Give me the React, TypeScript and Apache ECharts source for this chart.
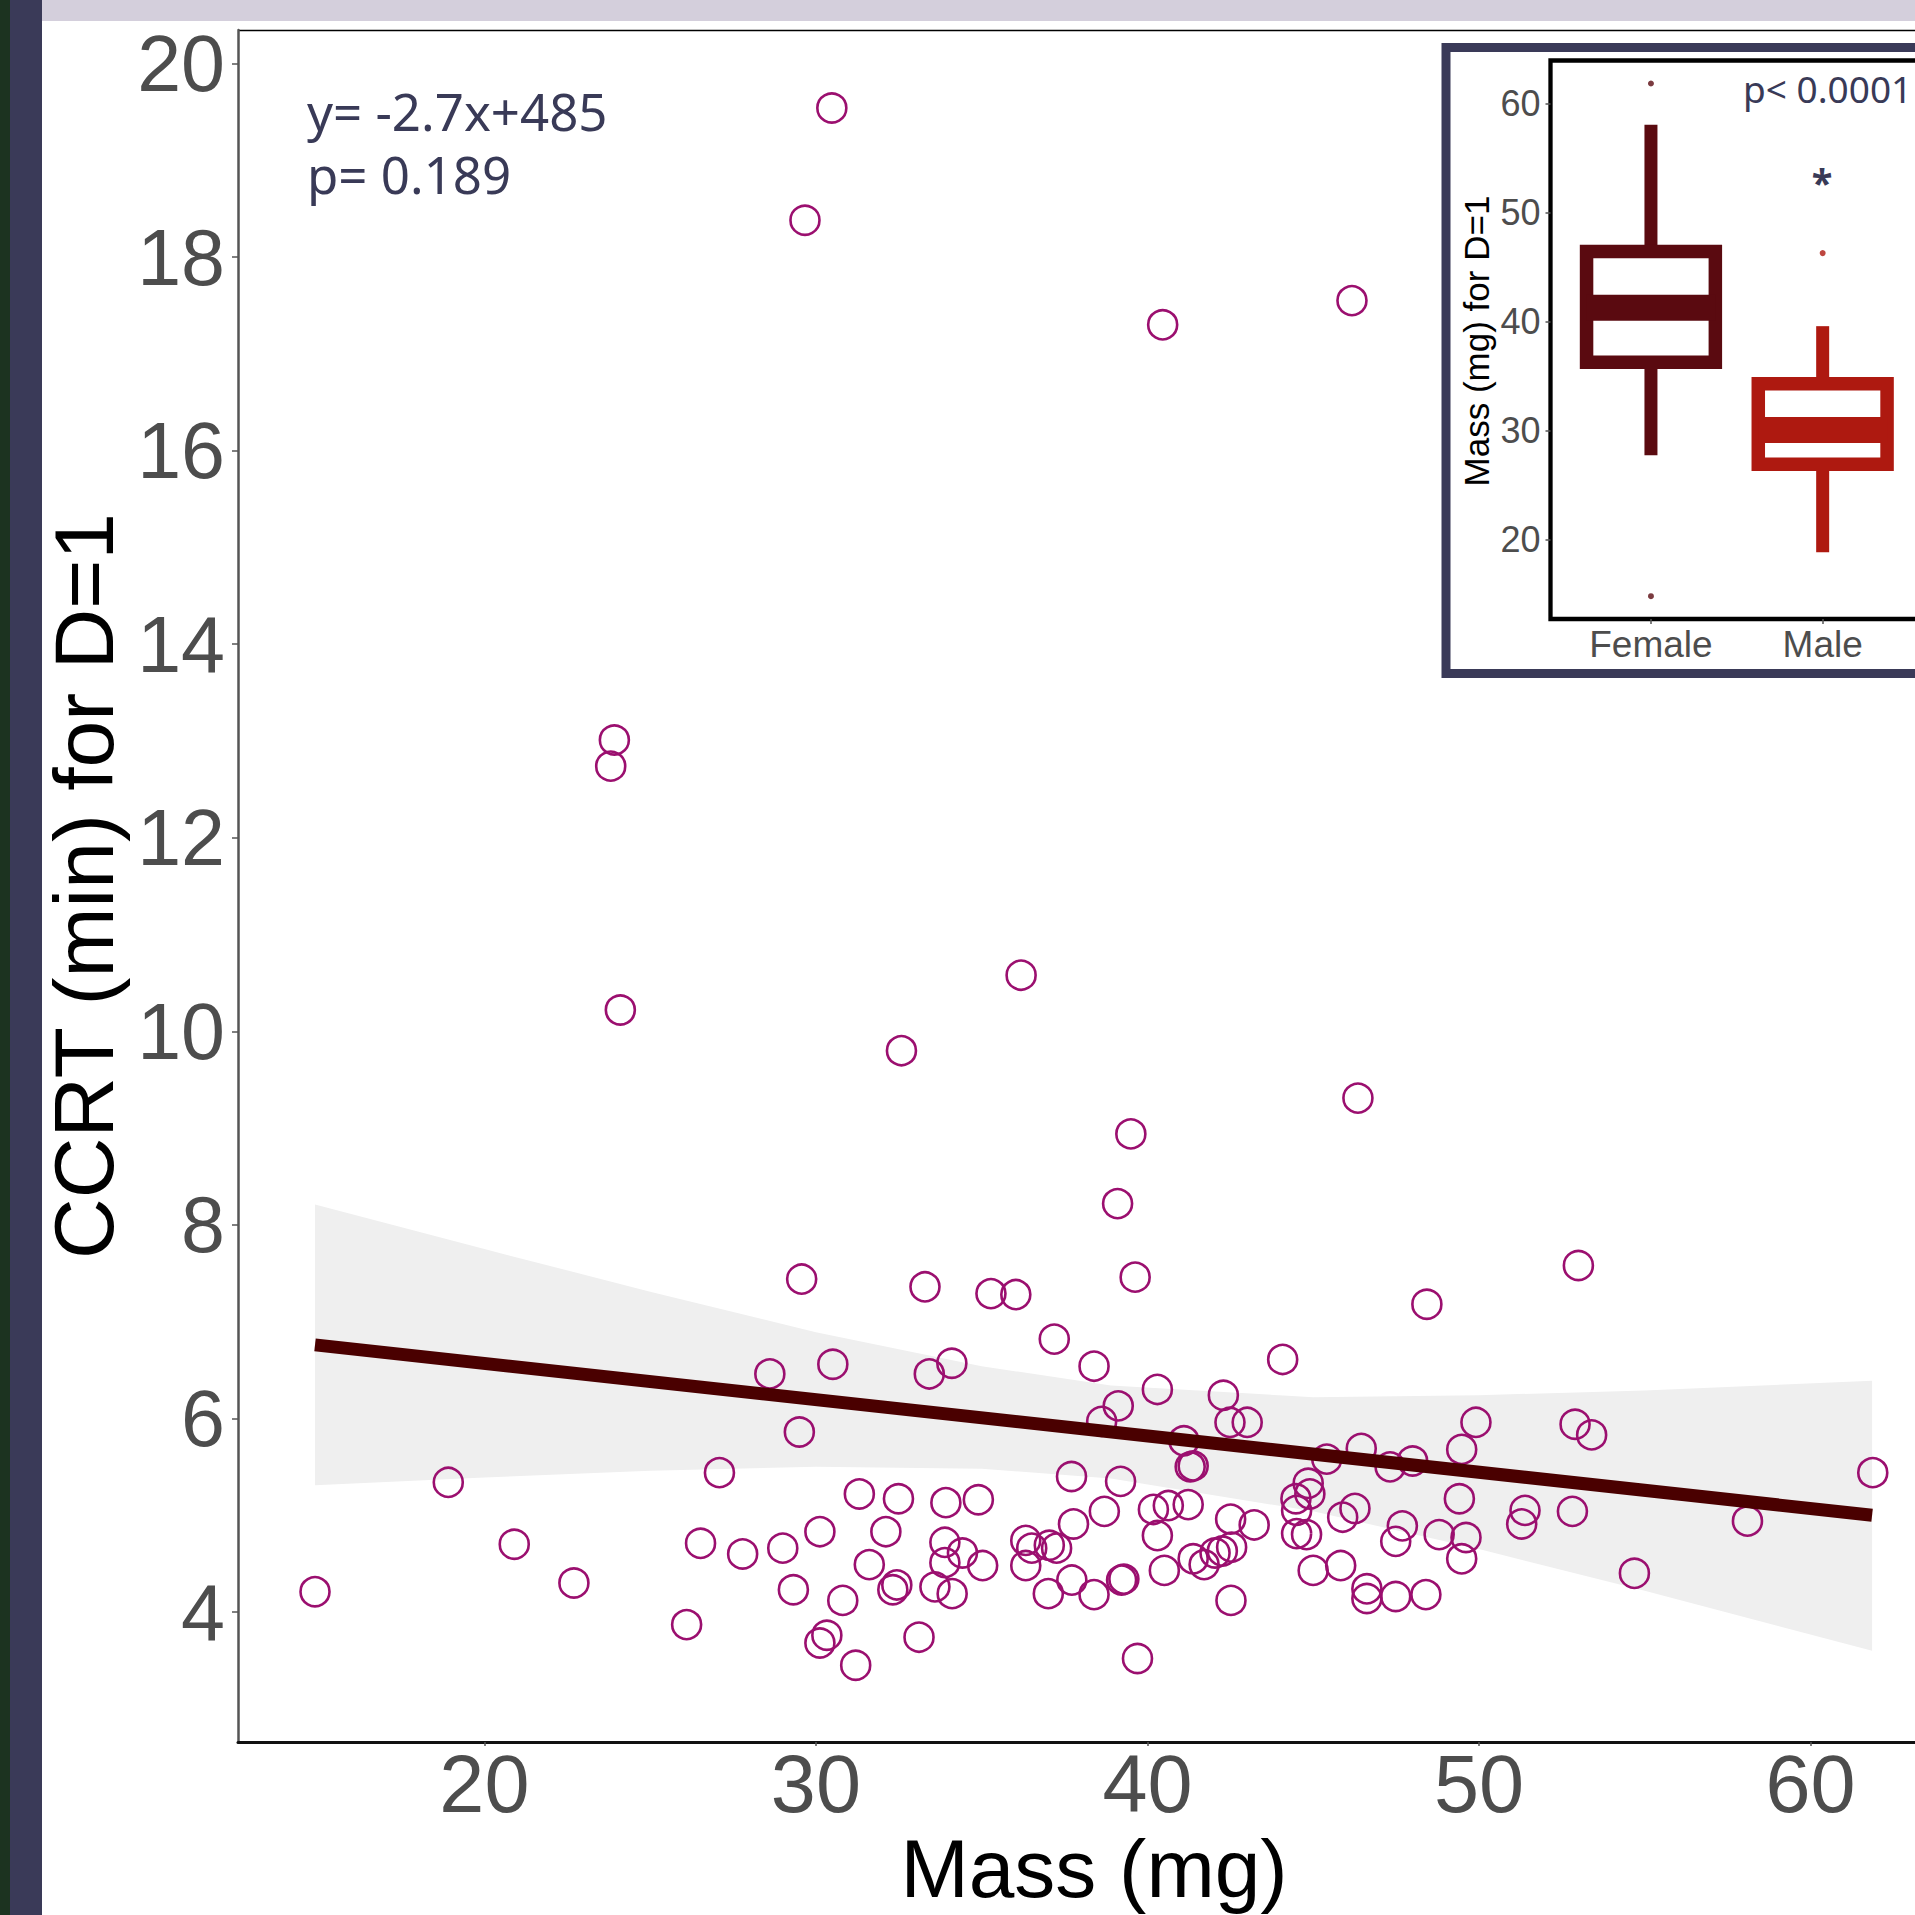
import React, { useEffect, useRef } from "react";
import * as echarts from "echarts";

// ---------- main scatter: Mass (mg) vs CCRT (min) ----------
const massValues = [
  14.89, 18.91, 20.9, 22.7, 26.1, 27.09, 26.52, 27.79, 28.61, 29.57,
  33.29, 35.28, 36.03, 37.19, 30.51, 33.42, 34.1, 29.5, 37.71, 31.31,
  32.49, 33.92, 34.9, 30.12, 32.11, 29.0, 33.89, 34.42, 33.89, 35.03,
  31.61, 36.33, 36.51, 37.04, 37.26, 36.33, 37.01, 29.32, 30.81, 32.32,
  32.44, 33.59, 34.11, 30.12, 30.33, 33.11, 31.2, 39.1, 39.63, 38.39,
  40.3, 39.12, 38.62, 42.29, 42.49, 43.01, 44.08, 41.1, 41.29, 41.38,
  39.19, 45.41, 46.45, 44.85, 44.48, 44.9, 44.5, 45.89, 46.26, 37.77,
  38.7, 40.18, 40.63, 41.23, 40.3, 42.51, 43.22, 42.54, 41.38, 41.71,
  42.04, 42.26, 40.51, 42.52, 39.7, 37.72, 38.39, 39.22, 39.29, 44.5,
  44.8, 45.0, 45.83, 46.62, 46.62, 53.0, 48.43, 49.91, 49.48, 52.9,
  53.4, 47.32, 48.0, 49.41, 51.39, 51.29, 52.82, 47.69, 47.49, 48.8,
  49.61, 49.48, 54.69, 47.49, 48.4, 61.88, 58.1, 30.48, 29.67, 40.46,
  46.17, 23.92, 23.81, 24.1, 36.19, 32.58, 46.35, 39.5
];
const ccrtValues = [
  4.21, 5.34, 4.7, 4.3, 3.87, 5.44, 4.71, 4.6, 6.46, 7.44,
  7.36, 7.29, 7.28, 6.82, 6.56, 6.46, 6.57, 5.86, 5.4, 5.22,
  5.17, 5.13, 5.16, 4.83, 4.83, 4.66, 4.72, 4.61, 4.51, 4.48,
  4.49, 4.74, 4.66, 4.69, 4.66, 4.48, 4.19, 4.23, 4.12, 4.23,
  4.28, 4.26, 4.19, 3.68, 3.76, 3.74, 3.45, 8.22, 7.46, 6.54,
  6.3, 6.13, 5.97, 6.24, 5.96, 5.96, 6.61, 5.77, 5.5, 5.51,
  5.35, 5.58, 5.69, 5.33, 5.17, 5.22, 5.05, 4.98, 5.07, 4.91,
  5.04, 5.06, 5.1, 5.11, 4.79, 4.96, 4.9, 4.67, 4.55, 4.49,
  4.61, 4.63, 4.43, 4.12, 3.52, 4.33, 4.18, 4.33, 4.34, 4.81,
  4.8, 4.43, 4.48, 4.24, 4.14, 7.58, 7.18, 5.96, 5.68, 5.94,
  5.83, 5.5, 5.56, 5.17, 5.05, 4.91, 5.04, 4.89, 4.73, 4.8,
  4.77, 4.55, 4.4, 4.16, 4.18, 5.44, 4.94, 19.54, 18.38, 17.3,
  17.55, 13.01, 12.74, 10.22, 10.58, 9.8, 9.31, 8.94
];

// fitted regression line (end points) and its confidence band
const fitMass = [14.89, 61.86];
const fitCcrt = [6.76, 5.0];
const bandMass = [14.89, 20, 25, 30, 35, 38.9, 45, 50, 55, 61.86];
const bandUpper = [8.21, 7.75, 7.31, 6.89, 6.54, 6.34, 6.22, 6.24, 6.29, 6.39];
const bandLower = [5.31, 5.39, 5.46, 5.5, 5.48, 5.38, 5.04, 4.65, 4.22, 3.6];

const xTicks = [20, 30, 40, 50, 60];
const yTicks = [4, 6, 8, 10, 12, 14, 16, 18, 20];

// ---------- inset boxplot: Mass by sex ----------
const sexCategories = ["Female", "Male"];
const boxMin = [27.77, 18.88];
const boxQ1 = [36.3, 26.94];
const boxMedian = [41.3, 30.09];
const boxQ3 = [46.44, 34.33];
const boxMax = [58.07, 39.6];
const outlierSex = [0, 0, 1];
const outlierMass = [61.85, 14.84, 46.3];
const insetTicks = [20, 30, 40, 50, 60];

const boxColors = ["#5a0a10", "#ae1910"];
const NAVY = "#3a3a58";
const POINT = "#9b0f6f";
const FIT = "#4a0000";
const TICK_GRAY = "#4d4d4d";

const CHART_W = 1980;
const CHART_H = 1915;

export default function App() {
  const ref = useRef<HTMLDivElement>(null);

  useEffect(() => {
    document.body.style.margin = "0";
    document.body.style.overflow = "hidden";
    if (!ref.current) return;
    const chart = echarts.init(ref.current, undefined, { renderer: "svg" });

    const scatterData = massValues.map((m, i) => [m, ccrtValues[i]]);
    const fitData = fitMass.map((m, i) => [m, fitCcrt[i]]);
    const boxData = sexCategories.map((_, i) => [
      i + 1,
      boxMin[i],
      boxQ1[i],
      boxMedian[i],
      boxQ3[i],
      boxMax[i],
    ]);
    const outlierData = outlierSex.map((s, i) => ({
      value: [s + 1, outlierMass[i]],
      itemStyle: { color: boxColors[s] },
    }));

    const textStyle = (
      text: string,
      family: string,
      size: number,
      fill: string,
      align: string,
      extra: any = {}
    ) => ({
      text,
      fontFamily: family,
      fontSize: size,
      fill,
      align,
      verticalAlign: "middle",
      textAlign: align,
      textVerticalAlign: "middle",
      ...extra,
    });

    const option: any = {
      animation: false,
      backgroundColor: "#ffffff",
      grid: [
        { left: 238, top: 30, width: 1712, height: 1712, show: false },
        {
          left: 1550.5,
          top: 60.5,
          width: 375.2,
          height: 558.5,
          show: true,
          backgroundColor: "#ffffff",
          borderColor: "#000000",
          borderWidth: 4.3,
          z: 10,
        },
      ],
      xAxis: [
        {
          type: "value",
          gridIndex: 0,
          min: 12.567,
          max: 64.21,
          splitLine: { show: false },
          axisLine: { show: true, onZero: false, lineStyle: { color: "#111", width: 3 } },
          axisTick: {
            show: true,
            length: 4,
            customValues: xTicks,
            lineStyle: { color: "#555", width: 1.5 },
          },
          axisLabel: {
            customValues: xTicks,
            fontFamily: "Liberation Sans",
            fontSize: 81,
            lineHeight: 64,
            color: TICK_GRAY,
            margin: 10,
          },
        },
        {
          type: "value",
          gridIndex: 1,
          min: 0.415,
          max: 2.6,
          splitLine: { show: false },
          axisLine: { show: false },
          axisTick: {
            show: true,
            length: 5,
            customValues: [1, 2],
            lineStyle: { color: "#555", width: 1.5 },
          },
          axisLabel: {
            customValues: [1, 2],
            formatter: (v: number) => sexCategories[Math.round(v) - 1] ?? "",
            fontFamily: "Liberation Sans",
            fontSize: 37,
            color: TICK_GRAY,
            margin: 7,
          },
          z: 11,
        },
      ],
      yAxis: [
        {
          type: "value",
          gridIndex: 0,
          min: 2.657,
          max: 20.346,
          splitLine: { show: false },
          axisLine: { show: true, onZero: false, lineStyle: { color: "#555", width: 2.5 } },
          axisTick: {
            show: true,
            length: 6,
            customValues: yTicks,
            lineStyle: { color: "#555", width: 1.5 },
          },
          axisLabel: {
            customValues: yTicks,
            fontFamily: "Liberation Sans",
            fontSize: 79,
            color: TICK_GRAY,
            margin: 13,
          },
        },
        {
          type: "value",
          gridIndex: 1,
          min: 12.75,
          max: 63.96,
          splitLine: { show: false },
          axisLine: { show: false },
          axisTick: {
            show: true,
            length: 5,
            customValues: insetTicks,
            lineStyle: { color: "#555", width: 1.5 },
          },
          axisLabel: {
            customValues: insetTicks,
            fontFamily: "Liberation Sans",
            fontSize: 36,
            color: TICK_GRAY,
            margin: 10,
          },
          z: 11,
        },
      ],
      series: [
        {
          type: "custom",
          name: "95% CI",
          xAxisIndex: 0,
          yAxisIndex: 0,
          z: 1,
          silent: true,
          data: [[bandMass[0], bandUpper[0]]],
          renderItem: (_params: any, api: any) => {
            const pts: number[][] = [];
            for (let i = 0; i < bandMass.length; i++) pts.push(api.coord([bandMass[i], bandUpper[i]]));
            for (let i = bandMass.length - 1; i >= 0; i--) pts.push(api.coord([bandMass[i], bandLower[i]]));
            return { type: "polygon", shape: { points: pts }, style: { fill: "#efefef" } };
          },
        },
        {
          type: "scatter",
          name: "CCRT",
          xAxisIndex: 0,
          yAxisIndex: 0,
          z: 2,
          symbol: "circle",
          symbolSize: 29,
          data: scatterData,
          itemStyle: { color: "rgba(0,0,0,0)", borderColor: POINT, borderWidth: 2.6, opacity: 1 },
        },
        {
          type: "line",
          name: "fit",
          xAxisIndex: 0,
          yAxisIndex: 0,
          z: 3,
          symbol: "none",
          data: fitData,
          lineStyle: { color: FIT, width: 13 },
        },
        {
          type: "custom",
          name: "box",
          xAxisIndex: 1,
          yAxisIndex: 1,
          z: 12,
          data: boxData,
          renderItem: (params: any, api: any) => {
            const pos = api.value(0);
            const color = boxColors[params.dataIndex];
            const pMin = api.coord([pos, api.value(1)]);
            const pQ1 = api.coord([pos, api.value(2)]);
            const pMed = api.coord([pos, api.value(3)]);
            const pQ3 = api.coord([pos, api.value(4)]);
            const pMax = api.coord([pos, api.value(5)]);
            const half = api.size([0.75, 0])[0] / 2;
            return {
              type: "group",
              children: [
                {
                  type: "line",
                  shape: { x1: pMin[0], y1: pMin[1], x2: pQ1[0], y2: pQ1[1] },
                  style: { stroke: color, lineWidth: 13 },
                },
                {
                  type: "line",
                  shape: { x1: pQ3[0], y1: pQ3[1], x2: pMax[0], y2: pMax[1] },
                  style: { stroke: color, lineWidth: 13 },
                },
                {
                  type: "rect",
                  shape: { x: pQ1[0] - half, y: pQ3[1], width: 2 * half, height: pQ1[1] - pQ3[1] },
                  style: { fill: "#ffffff", stroke: color, lineWidth: 13.5 },
                },
                {
                  type: "line",
                  shape: { x1: pMed[0] - half, y1: pMed[1], x2: pMed[0] + half, y2: pMed[1] },
                  style: { stroke: color, lineWidth: 26 },
                },
              ],
            };
          },
        },
        {
          type: "scatter",
          name: "outliers",
          xAxisIndex: 1,
          yAxisIndex: 1,
          z: 12,
          symbolSize: 6,
          data: outlierData,
        },
      ],
      graphic: [
        // slide decoration
        { type: "rect", shape: { x: 0, y: 0, width: 10, height: 1915 }, style: { fill: "#1c3320" }, silent: true },
        { type: "rect", shape: { x: 10, y: 0, width: 32, height: 1915 }, style: { fill: NAVY }, silent: true },
        { type: "rect", shape: { x: 42, y: 0, width: 1940, height: 21 }, style: { fill: "#d4cfdc" }, silent: true },
        // top border of main panel
        {
          type: "line",
          shape: { x1: 238, y1: 30.5, x2: 1950, y2: 30.5 },
          style: { stroke: "#000", lineWidth: 1.5 },
          silent: true,
        },
        // axis titles
        {
          type: "text",
          x: 84,
          y: 886,
          rotation: Math.PI / 2,
          style: textStyle("CCRT (min) for D=1", "Liberation Sans", 84, "#000", "center"),
        },
        {
          type: "text",
          x: 1094,
          y: 1868,
          style: textStyle("Mass (mg)", "Liberation Sans", 82, "#000", "center", { lineHeight: 70 }),
        },
        // regression annotation
        {
          type: "text",
          x: 307,
          y: 111,
          style: textStyle("y= -2.7x+485", "Noto Sans", 51, "#393a57", "left"),
        },
        {
          type: "text",
          x: 307,
          y: 174,
          style: textStyle("p= 0.189", "Noto Sans", 51, "#393a57", "left"),
        },
        // inset frame
        {
          type: "rect",
          z: 20,
          shape: { x: 1446, y: 47.5, width: 600, height: 626 },
          style: { fill: "none", stroke: NAVY, lineWidth: 9 },
          silent: true,
        },
        {
          type: "text",
          z: 20,
          x: 1476,
          y: 341,
          rotation: Math.PI / 2,
          style: textStyle("Mass (mg) for D=1", "Liberation Sans", 35, "#000", "center"),
        },
        {
          type: "text",
          z: 20,
          x: 1743,
          y: 88,
          style: textStyle("p< 0.0001", "Noto Sans", 37, "#393a57", "left"),
        },
        {
          type: "text",
          z: 20,
          x: 1822,
          y: 182,
          style: textStyle("*", "Noto Sans", 38, "#393a57", "center", { fontWeight: "bold" }),
        },
      ],
    };

    chart.setOption(option);
    return () => {
      chart.dispose();
    };
  }, []);

  return (
    <div style={{ width: 1915, height: 1915, overflow: "hidden", position: "relative" }}>
      <div ref={ref} style={{ width: CHART_W, height: CHART_H }} />
    </div>
  );
}
